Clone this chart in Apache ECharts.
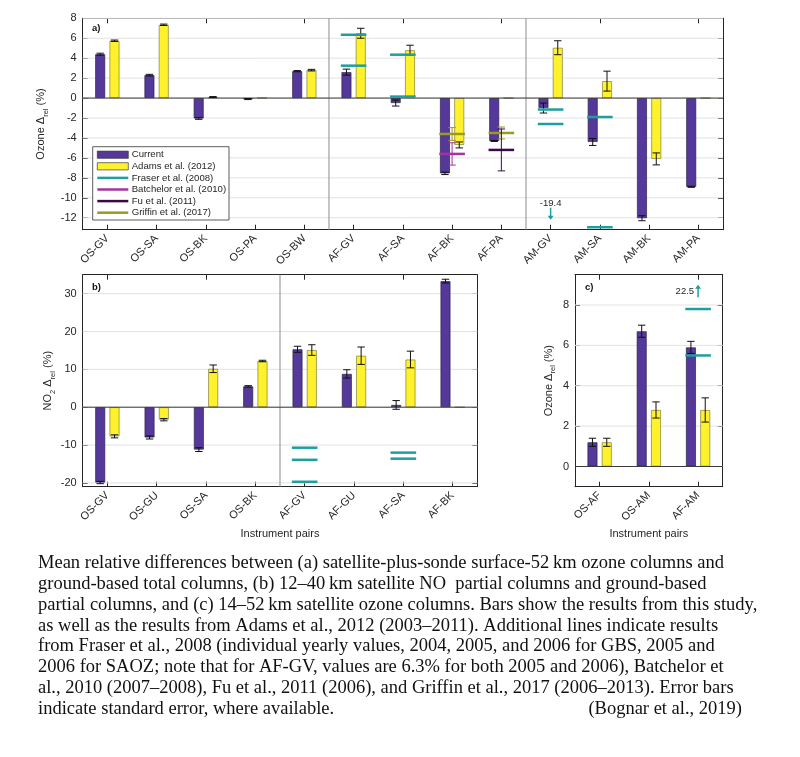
<!DOCTYPE html>
<html><head><meta charset="utf-8">
<script src="https://cdn.jsdelivr.net/npm/echarts@6/dist/echarts.min.js"></script>
<style>html,body{margin:0;padding:0;background:#fff}#c{width:800px;height:757px}</style>
</head><body><div id="c"></div>
<script>
// ---------- Panel a: ozone (satellite-plus-sonde vs ground-based) ----------
const catsA = ['OS-GV','OS-SA','OS-BK','OS-PA','OS-BW','AF-GV','AF-SA','AF-BK','AF-PA','AM-GV','AM-SA','AM-BK','AM-PA'];
const currentA    = [4.4, 2.3, -2.05, -0.1, 2.7, 2.6, -0.5, -7.55, -4.3, -1.0, -4.4, -12.05, -8.9];
const currentErrA = [0.1, 0.08, 0.08, 0.05, 0.06, 0.3, 0.3, 0.12, 0.05, 0.5, 0.35, 0.25, 0.05];
const adamsA      = [5.75, 7.35, 0.1, 0.02, 2.8, 6.5, 4.8, -4.7, 0, 5.05, 1.7, -6.1, 0];
const adamsErrA   = [0.07, 0.07, 0.05, null, 0.08, 0.5, 0.5, 0.3, null, 0.7, 1.0, 0.6, null];
const fraserA    = [['AF-GV',6.35],['AF-GV',3.25],['AF-SA',4.35],['AF-SA',0.15],['AM-GV',-1.15],['AM-GV',-2.6],['AM-SA',-1.9],['AM-SA',-12.95]];
const batchelorA = [['AF-BK',-5.6,1.12]];
const fuA        = [['AF-PA',-5.2,2.1]];
const griffinA   = [['AF-BK',-3.6,0.64],['AF-PA',-3.5,0.6]];
const offScaleA  = [['AM-GV',-19.4]];
const ticksA = [-12,-10,-8,-6,-4,-2,0,2,4,6,8];

// ---------- Panel b: NO2 ----------
const catsB = ['OS-GV','OS-GU','OS-SA','OS-BK','AF-GV','AF-GU','AF-SA','AF-BK'];
const currentB    = [-19.9, -8.0, -11.2, 5.5, 15.3, 8.8, 0.6, 33.3];
const currentErrB = [0.3, 0.4, 0.5, 0.2, 0.8, 1.1, 1.15, 0.5];
const adamsB      = [-7.7, -3.3, 10.15, 12.2, 15.1, 13.6, 12.6, 0];
const adamsErrB   = [0.4, 0.3, 1.0, 0.2, 1.4, 2.3, 2.2, null];
const fraserB = [['AF-GV',-10.7],['AF-GV',-13.9],['AF-GV',-19.7],['AF-SA',-12.0],['AF-SA',-13.6]];
const ticksB = [-20,-10,0,10,20,30];

// ---------- Panel c: 14-52 km satellite ozone ----------
const catsC = ['OS-AF','OS-AM','AF-AM'];
const currentC    = [1.2, 6.7, 5.9];
const currentErrC = [0.2, 0.3, 0.3];
const adamsC      = [1.2, 2.8, 2.8];
const adamsErrC   = [0.2, 0.4, 0.6];
const fraserC   = [['AF-AM',7.8],['AF-AM',5.5]];
const offScaleC = [['AF-AM',22.5]];
const ticksC = [0,2,4,6,8];

const captionLines = [
  'Mean relative differences between (a) satellite-plus-sonde surface-52\u2009km ozone columns and',
  'ground-based total columns, (b) 12\u201340\u2009km satellite NO\u00a0 partial columns and ground-based',
  'partial columns, and (c) 14\u201352\u2009km satellite ozone columns. Bars show the results from this study,',
  'as well as the results from Adams et al., 2012 (2003\u20132011). Additional lines indicate results',
  'from Fraser et al., 2008 (individual yearly values, 2004, 2005, and 2006 for GBS, 2005 and',
  '2006 for SAOZ; note that for AF-GV, values are 6.3% for both 2005 and 2006), Batchelor et',
  'al., 2010 (2007\u20132008), Fu et al., 2011 (2006), and Griffin et al., 2017 (2006\u20132013). Error bars',
  'indicate standard error, where available.'
];
const captionSource = '(Bognar et al., 2019)';

// ---------- styling ----------
const C = {cur:'#54399a', adams:'#fff22c', fraser:'#1f9e9e', batch:'#a3349f', fu:'#3b0a47', griffin:'#999a23',
           axis:'#262626', grid:'#e2e2e2', sep:'#8c8c8c'};
const FONT = '"Liberation Sans", Arial, Helvetica, sans-serif';
const SERIF = '"Liberation Serif", "Times New Roman", serif';

const option = {animation:false, grid:[], xAxis:[], yAxis:[], series:[], graphic:[]};

function nameStyle(){
  return {fontSize:11, color:C.axis, fontFamily:FONT,
    rich:{sub:{fontSize:7.5, color:C.axis, fontFamily:FONT, padding:[9,0,0,0]}}};
}

function errorSeries(xa, ya, vals, errs, offset, color){
  const data = [];
  vals.forEach((v,i)=>{ if(errs[i]!=null && v!=null) data.push([i, v-errs[i], v+errs[i]]); });
  return {type:'custom', xAxisIndex:xa, yAxisIndex:ya, data, encode:{x:0,y:[1,2]}, z:5, silent:true, clip:false,
    renderItem(params, api){
      const i = api.value(0);
      const lo = api.coord([i, api.value(1)]), hi = api.coord([i, api.value(2)]);
      const x = lo[0] + offset, c = 3.7;
      const st = {stroke:color, lineWidth:1};
      return {type:'group', children:[
        {type:'line', shape:{x1:x,y1:hi[1],x2:x,y2:lo[1]}, style:st},
        {type:'line', shape:{x1:x-c,y1:hi[1],x2:x+c,y2:hi[1]}, style:st},
        {type:'line', shape:{x1:x-c,y1:lo[1],x2:x+c,y2:lo[1]}, style:st}]};
    }};
}

function refSeries(name, xa, ya, cats, items, color){
  return {type:'custom', name, xAxisIndex:xa, yAxisIndex:ya, z:6, silent:true,
    data: items.map(d=>[cats.indexOf(d[0]), d[1], d[2]||0]), encode:{x:0,y:1},
    renderItem(params, api){
      const i = api.value(0), v = api.value(1), e = api.value(2);
      const p = api.coord([i, v]);
      const half = api.size([1,0])[0]*0.26;
      const ch = [{type:'line', shape:{x1:p[0]-half,y1:p[1],x2:p[0]+half,y2:p[1]}, style:{stroke:color, lineWidth:2.5}}];
      if (e > 0){
        const hi = api.coord([i, v+e])[1], lo = api.coord([i, v-e])[1], c = 3.7;
        const st = {stroke:color, lineWidth:1};
        ch.push({type:'line', shape:{x1:p[0],y1:hi,x2:p[0],y2:lo}, style:st});
        ch.push({type:'line', shape:{x1:p[0]-c,y1:hi,x2:p[0]+c,y2:hi}, style:st});
        ch.push({type:'line', shape:{x1:p[0]-c,y1:lo,x2:p[0]+c,y2:lo}, style:st});
      }
      return {type:'group', children:ch};
    }};
}

function offScaleSeries(xa, ya, cats, items){
  return {type:'custom', xAxisIndex:xa, yAxisIndex:ya, z:7, silent:true, clip:false,
    data: items.map(d=>[cats.indexOf(d[0]), d[1]]), encode:{x:0,y:1},
    renderItem(params, api){
      const cs = params.coordSys;
      const v = api.value(1);
      const x = api.coord([api.value(0), 0])[0];
      const ts = {text:String(v), fontSize:9.5, fontFamily:FONT, fill:C.axis, verticalAlign:'middle'};
      if (v < 0){
        const yb = cs.y + cs.height;
        return {type:'group', children:[
          {type:'text', x:x, y:yb-26, style:Object.assign({}, ts, {align:'center'})},
          {type:'line', shape:{x1:x,y1:yb-22,x2:x,y2:yb-13}, style:{stroke:C.fraser, lineWidth:1.5}},
          {type:'polygon', shape:{points:[[x-3,yb-14],[x+3,yb-14],[x,yb-10]]}, style:{fill:C.fraser}}]};
      } else {
        const yt = cs.y;
        return {type:'group', children:[
          {type:'text', x:x-4, y:yt+16.5, style:Object.assign({}, ts, {align:'right'})},
          {type:'line', shape:{x1:x,y1:yt+22.5,x2:x,y2:yt+13}, style:{stroke:C.fraser, lineWidth:1.5}},
          {type:'polygon', shape:{points:[[x-3,yt+14],[x+3,yt+14],[x,yt+10]]}, style:{fill:C.fraser}}]};
      }
    }};
}

function addPanel(p){
  const g = option.grid.length;
  option.grid.push({left:p.left, top:p.top, width:p.width, height:p.height, containLabel:false});
  const xa = option.xAxis.length;
  const xCommon = {type:'category', gridIndex:g, data:p.cats, boundaryGap:true,
    axisLine:{show:true, onZero:false, lineStyle:{color:C.axis, width:1}},
    axisTick:{show:true, inside:true, alignWithLabel:true, length:5, lineStyle:{color:C.axis}},
    splitLine:{show:false}};
  option.xAxis.push(Object.assign({}, xCommon, {position:'bottom',
    axisLabel:{rotate:45, fontSize:11, color:C.axis, fontFamily:FONT, margin:7, interval:0},
    name:p.xName||'', nameLocation:'middle', nameGap:42, nameTextStyle:{fontSize:11, color:C.axis, fontFamily:FONT}}));
  option.xAxis.push(Object.assign({}, xCommon, {position:'top', axisLabel:{show:false}}));
  const ya = option.yAxis.length;
  option.yAxis.push({type:'value', gridIndex:g, min:p.min, max:p.max, position:'left',
    axisLine:{show:true, lineStyle:{color:C.axis}},
    axisTick:{show:true, inside:true, length:5, customValues:p.ticks, lineStyle:{color:C.axis}},
    axisLabel:{customValues:p.ticks, fontSize:11, color:C.axis, fontFamily:FONT, margin:6},
    splitLine:{show:false},
    name:p.yName, nameLocation:'middle', nameRotate:90, nameGap:p.yNameGap, nameTextStyle:nameStyle()});
  option.yAxis.push({type:'value', gridIndex:g, min:p.min, max:p.max, position:'right',
    axisLine:{show:true, lineStyle:{color:C.axis}},
    axisTick:{show:true, inside:true, length:5, customValues:p.ticks, lineStyle:{color:C.axis}},
    axisLabel:{show:false}, splitLine:{show:false}});

  // grid lines
  option.series.push({type:'custom', xAxisIndex:xa, yAxisIndex:ya, z:1, silent:true,
    data:p.ticks.map(v=>[0,v]),
    renderItem(params, api){
      const cs = params.coordSys; const y = api.coord([0, api.value(1)])[1];
      return {type:'line', shape:{x1:cs.x,y1:y,x2:cs.x+cs.width,y2:y}, style:{stroke:C.grid, lineWidth:1}};
    }});
  // group separators
  if (p.separators){
    option.series.push({type:'custom', xAxisIndex:xa, yAxisIndex:ya, z:1, silent:true,
      data:p.separators.map(s=>[p.cats.indexOf(s), 0]),
      renderItem(params, api){
        const cs = params.coordSys; const i = api.value(0);
        const x = (api.coord([i,0])[0] + api.coord([i+1,0])[0]) / 2;
        return {type:'line', shape:{x1:x,y1:cs.y,x2:x,y2:cs.y+cs.height}, style:{stroke:C.sep, lineWidth:1}};
      }});
  }
  // bars
  option.series.push({type:'bar', name:'Current', xAxisIndex:xa, yAxisIndex:ya, data:p.cur, barWidth:10, barGap:'43%', z:3,
    itemStyle:{color:C.cur, borderColor:'rgba(40,30,70,0.85)', borderWidth:0.8}});
  option.series.push({type:'bar', name:'Adams et al. (2012)', xAxisIndex:xa, yAxisIndex:ya, data:p.adams, barWidth:10, barGap:'43%', z:3,
    itemStyle:{color:C.adams, borderColor:'rgba(110,105,40,0.75)', borderWidth:0.8}});
  // zero baseline
  option.series.push({type:'custom', xAxisIndex:xa, yAxisIndex:ya, z:4, silent:true, data:[[0,0]],
    renderItem(params, api){
      const cs = params.coordSys; const y = api.coord([0,0])[1];
      return {type:'line', shape:{x1:cs.x,y1:y,x2:cs.x+cs.width,y2:y}, style:{stroke:'#3a3a3a', lineWidth:1}};
    }});
  option.series.push(errorSeries(xa, ya, p.cur, p.curErr, -7.15, '#111'));
  option.series.push(errorSeries(xa, ya, p.adams, p.adamsErr, 7.15, '#111'));
  (p.refs||[]).forEach(r=>option.series.push(refSeries(r.name, xa, ya, p.cats, r.data, r.color)));
  if (p.off) option.series.push(offScaleSeries(xa, ya, p.cats, p.off));
  option.graphic.push({type:'text', left:p.tagX, top:p.tagY, style:{text:p.tag, fontSize:9.5, fontWeight:'bold', fontFamily:FONT, fill:'#111'}});
}

addPanel({left:82.7, top:18.3, width:640.3, height:211.4, cats:catsA, min:-13.2, max:8, ticks:ticksA,
  cur:currentA, curErr:currentErrA, adams:adamsA, adamsErr:adamsErrA, separators:['OS-BW','AF-PA'],
  refs:[{name:'Fraser et al. (2008)', data:fraserA, color:C.fraser},
        {name:'Batchelor et al. (2010)', data:batchelorA, color:C.batch},
        {name:'Griffin et al. (2017)', data:griffinA, color:C.griffin},
        {name:'Fu et al. (2011)', data:fuA, color:C.fu}],
  off:offScaleA, yName:'Ozone \u0394{sub|rel} (%)', yNameGap:24, tag:'a)', tagX:92, tagY:23});
addPanel({left:82.7, top:274.7, width:394.6, height:212, cats:catsB, min:-21, max:35, ticks:ticksB,
  cur:currentB, curErr:currentErrB, adams:adamsB, adamsErr:adamsErrB, separators:['OS-BK'],
  refs:[{name:'Fraser et al. (2008)', data:fraserB, color:C.fraser}],
  yName:'NO{sub|2} \u0394{sub|rel} (%)', yNameGap:24, xName:'Instrument pairs', tag:'b)', tagX:92, tagY:282});
addPanel({left:575, top:274.7, width:147.7, height:212, cats:catsC, min:-1, max:9.5, ticks:ticksC,
  cur:currentC, curErr:currentErrC, adams:adamsC, adamsErr:adamsErrC,
  refs:[{name:'Fraser et al. (2008)', data:fraserC, color:C.fraser}],
  off:offScaleC, yName:'Ozone \u0394{sub|rel} (%)', yNameGap:18, xName:'Instrument pairs', tag:'c)', tagX:585, tagY:282});

// legend (panel a)
const legendItems = [
  {name:'Current', kind:'bar', color:C.cur},
  {name:'Adams et al. (2012)', kind:'bar', color:C.adams},
  {name:'Fraser et al. (2008)', kind:'line', color:C.fraser},
  {name:'Batchelor et al. (2010)', kind:'line', color:C.batch},
  {name:'Fu et al. (2011)', kind:'line', color:C.fu},
  {name:'Griffin et al. (2017)', kind:'line', color:C.griffin}
];
const lg = {x:92.7, y:146.7, w:136.3, h:73.3};
option.graphic.push({type:'rect', shape:{x:lg.x, y:lg.y, width:lg.w, height:lg.h}, style:{fill:'#fff', stroke:'#333', lineWidth:0.8}, z:10});
legendItems.forEach((it, k)=>{
  const cy = lg.y + 8 + k*11.6;
  if (it.kind === 'bar'){
    option.graphic.push({type:'rect', shape:{x:97.3, y:cy-3.6, width:31, height:7.2}, style:{fill:it.color, stroke:'rgba(40,40,40,0.8)', lineWidth:0.8}, z:11});
  } else {
    option.graphic.push({type:'line', shape:{x1:97.3, y1:cy, x2:128.3, y2:cy}, style:{stroke:it.color, lineWidth:2.5}, z:11});
  }
  option.graphic.push({type:'text', x:131.7, y:cy, style:{text:it.name, fontSize:9.6, fontFamily:FONT, fill:C.axis, verticalAlign:'middle'}, z:11});
});

// caption
captionLines.forEach((t, k)=>{
  option.graphic.push({type:'text', x:38, y:563 + k*20.9, style:{text:t, fontSize:18.5, fontFamily:SERIF, fill:'#111', verticalAlign:'middle'}});
});
option.graphic.push({type:'text', x:742, y:563 + 7*20.9, style:{text:captionSource, fontSize:18.5, fontFamily:SERIF, fill:'#111', align:'right', verticalAlign:'middle'}});

const chart = echarts.init(document.getElementById('c'), null, {renderer:'canvas', width:800, height:757});
chart.setOption(option);
</script>
</body></html>
